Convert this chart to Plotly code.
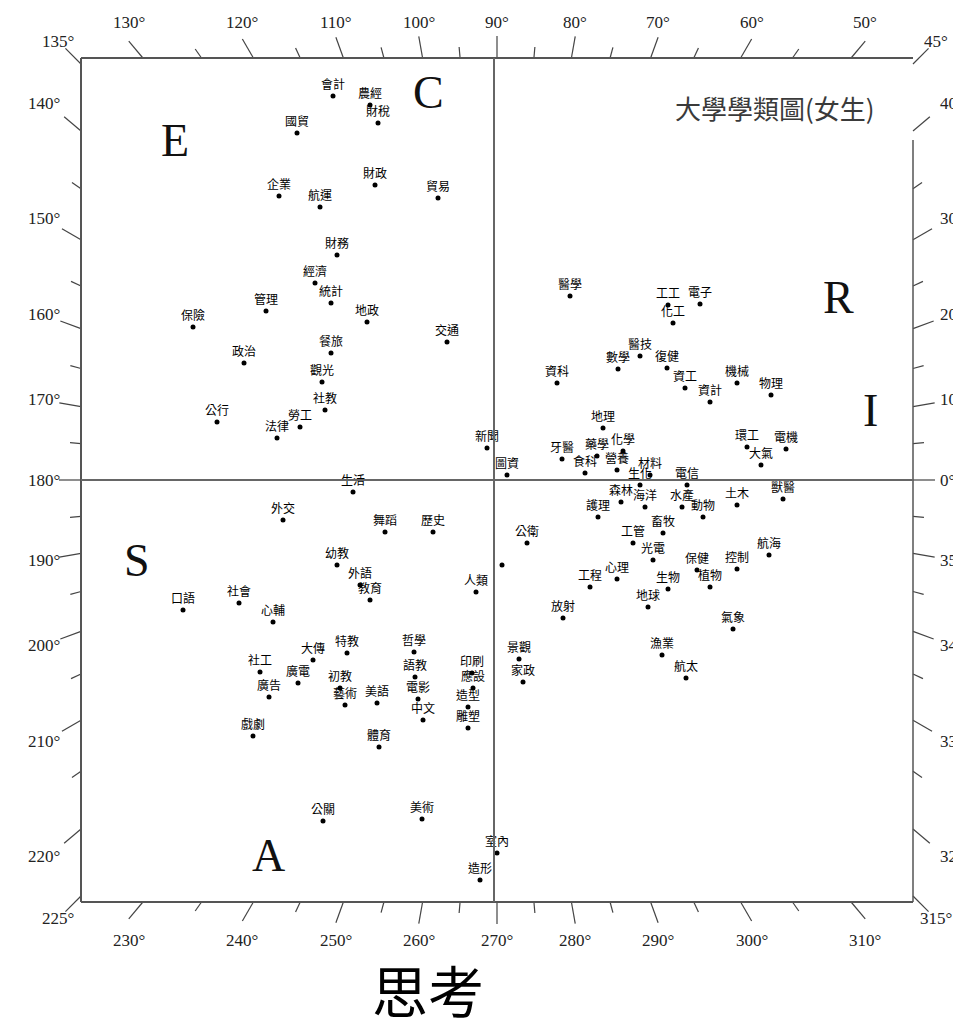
import math
import plotly.graph_objects as go

# ---------------- data (scale positions; 0,0 = centre of the map) ----------------
LABELS = [
    "會計", "農經", "財稅", "國貿", "企業", "航運", "財政", "貿易", "財務", "經濟",
    "統計", "管理", "地政", "交通", "保險", "政治", "餐旅", "觀光", "社教", "勞工",
    "法律", "公行", "生活", "外交",
    "舞蹈", "歷史", "幼教", "外語", "教育", "口語", "社會", "心輔", "大傳", "特教",
    "社工", "廣電", "廣告", "初教", "藝術", "美語", "哲學", "語教", "電影", "中文",
    "印刷", "應設", "造型", "雕塑", "人類", "", "景觀", "家政", "戲劇", "體育",
    "公關", "美術", "室內", "造形",
    "醫學", "工工", "電子", "化工", "數學", "醫技", "復健", "資工", "資計", "機械",
    "物理", "資科", "地理", "牙醫", "藥學", "化學", "食科", "營養", "材料", "生化",
    "電信", "森林", "海洋", "水產", "動物", "土木", "獸醫", "環工", "電機", "大氣",
    "畜牧", "工管", "護理", "公衛", "新聞", "圖資", "光電", "航海", "保健", "控制",
    "心理", "工程", "生物", "植物", "地球", "氣象", "漁業", "航太", "放射",
]
X = [
    -164, -127, -119, -200, -218, -177, -122, -59, -160, -182,
    -166, -231, -130, -50, -304, -253, -166, -175, -172, -197,
    -220, -280, -144, -214,
    -112, -64, -160, -137, -127, -314, -258, -224, -184, -150,
    -237, -199, -228, -157, -152, -120, -83, -82, -79, -74,
    -25, -24, -29, -29, -21, 5, 22, 26, -244, -118,
    -174, -75, 0, -17,
    73, 171, 203, 176, 121, 143, 170, 188, 213, 240,
    274, 60, 106, 65, 100, 126, 88, 120, 153, 143,
    190, 124, 148, 185, 206, 240, 286, 250, 289, 264,
    166, 136, 101, 30, -10, 10, 156, 272, 200, 240,
    120, 93, 171, 213, 151, 236, 165, 189, 66,
]
Y = [
    384, 375, 357, 347, 284, 273, 295, 282, 225, 197,
    177, 169, 158, 138, 153, 117, 127, 98, 70, 53,
    42, 58, -12, -40,
    -52, -52, -85, -105, -120, -130, -123, -142, -180, -173,
    -192, -203, -217, -208, -225, -223, -172, -197, -219, -240,
    -193, -208, -227, -248, -112, -85, -179, -202, -256, -267,
    -341, -339, -373, -400,
    184, 175, 176, 157, 111, 124, 112, 92, 78, 97,
    85, 97, 52, 21, 24, 29, 7, 10, 5, -5,
    -5, -22, -27, -27, -37, -25, -19, 33, 31, 15,
    -53, -63, -37, -63, 32, 5, -80, -75, -90, -89,
    -99, -107, -109, -107, -127, -149, -175, -198, -138,
]

# angle scale around the frame (degrees)
TOP_TICKS = [135, 130, 120, 110, 100, 90, 80, 70, 60, 50, 45]
LEFT_TICKS = [140, 150, 160, 170, 180, 190, 200, 210, 220]
BOTTOM_TICKS = [225, 230, 240, 250, 260, 270, 280, 290, 300, 310, 315]
RIGHT_TICKS = [40, 30, 20, 10, 0, 350, 340, 330, 320]
CORNERS = [45, 135, 225, 315]

# region letters
REGION_TEXT = ["E", "C", "R", "I", "S", "A"]
REGION_X = [-322, -69, 341, 373, -360, -229]
REGION_Y = [340, 388, 183, 70, -80, -375]

TITLE = "大學學類圖(女生)"
AXIS_TITLE = "思考"

# ---------------- layout constants ----------------
W, H = 953, 1018
HX, HY = 416, 422           # half size of the square frame
CX_PX, CY_PX = 497, 480     # frame centre in the page
XR = [-CX_PX, W - CX_PX]
YR = [CY_PX - H, CY_PX]
LINE_COL = "#555555"
SERIF = "Liberation Serif, Times New Roman, serif"
CJK = "Noto Sans CJK TC, Noto Sans CJK SC, sans-serif"
TOP_BAND, BOTTOM_BAND = 458, -460
LEFT_EDGE, RIGHT_EDGE = -435, 441


def border(theta):
    c, s = math.cos(math.radians(theta)), math.sin(math.radians(theta))
    t = min(HX / abs(c) if abs(c) > 1e-9 else 1e9, HY / abs(s) if abs(s) > 1e-9 else 1e9)
    return c * t, s * t, c, s


def side(theta):
    a = theta % 360
    if 45 < a < 135:
        return "top"
    if 135 < a < 225:
        return "left"
    if 225 < a < 315:
        return "bottom"
    return "right"


fig = go.Figure()

# frame and the two centre lines
shapes = []
def seg(x0, y0, x1, y1, w=2, col=LINE_COL):
    shapes.append(dict(type="line", xref="x", yref="y", x0=x0, y0=y0, x1=x1, y1=y1,
                       line=dict(color=col, width=w)))

seg(-HX, HY, HX, HY)
seg(-HX, -HY, -HX, HY)
seg(-HX, -HY, HX, -HY)
seg(HX, -HY, HX, HY - 82, w=1.5)
seg(-3, -HY, -3, HY, w=2, col="#666666")
seg(-HX, 0, HX, 0, w=2, col="#666666")

# ticks (radial, every 5 degrees)
majors = set(TOP_TICKS + LEFT_TICKS + BOTTOM_TICKS + RIGHT_TICKS)
tx, ty = [], []
for a in range(0, 360, 5):
    bx, by, c, s = border(a)
    L = 22 if a in majors else 11
    tx += [bx, bx + c * L, None]
    ty += [by, by + s * L, None]
fig.add_trace(go.Scatter(x=tx, y=ty, mode="lines", line=dict(color="#444444", width=1.2),
                         hoverinfo="skip", showlegend=False))

annotations = []
tick_font = dict(family=SERIF, size=17, color="#222222")
for a in TOP_TICKS + LEFT_TICKS + BOTTOM_TICKS + RIGHT_TICKS:
    bx, by, c, s = border(a)
    if a in CORNERS:
        x, y, xa = bx + c * 32, by + s * 32, "center"
    else:
        sd = side(a)
        if sd == "top":
            x, y, xa = bx + c * 22, TOP_BAND, "center"
        elif sd == "bottom":
            x, y, xa = bx + c * 22, BOTTOM_BAND, "center"
        elif sd == "left":
            x, y, xa = LEFT_EDGE, by + s * 42, "right"
        else:
            x, y, xa = RIGHT_EDGE, by + s * 42, "left"
    annotations.append(dict(x=x, y=y, xref="x", yref="y", text=f"{a}°", showarrow=False,
                            xanchor=xa, yanchor="middle", font=tick_font))

# region letters
for t, x, y in zip(REGION_TEXT, REGION_X, REGION_Y):
    annotations.append(dict(x=x, y=y, xref="x", yref="y", text=t, showarrow=False,
                            xanchor="center", yanchor="middle",
                            font=dict(family=SERIF, size=46, color="#111111")))

annotations.append(dict(x=278, y=373, xref="x", yref="y", text=TITLE, showarrow=False,
                        xanchor="center", yanchor="middle",
                        font=dict(family=CJK, size=26, color="#3a3a3a")))
annotations.append(dict(x=-69, y=-508, xref="x", yref="y", text=AXIS_TITLE, showarrow=False,
                        xanchor="center", yanchor="middle",
                        font=dict(family=CJK, size=56, color="#000000")))

# the majors
fig.add_trace(go.Scatter(
    x=X, y=Y, mode="markers+text", text=LABELS, textposition="top center",
    marker=dict(size=5, color="#000000"),
    textfont=dict(family=CJK, size=12, color="#000000"),
    cliponaxis=False, hoverinfo="text", showlegend=False))

fig.update_layout(
    width=W, height=H, margin=dict(l=0, r=0, t=0, b=0),
    paper_bgcolor="white", plot_bgcolor="white",
    xaxis=dict(range=XR, visible=False, fixedrange=True),
    yaxis=dict(range=YR, visible=False, fixedrange=True),
    shapes=shapes, annotations=annotations, showlegend=False,
)

fig.write_html("out.html", config={"displayModeBar": False},
               post_script="document.body.style.margin='0px';document.body.style.padding='0px';"
                           "document.body.style.overflow='hidden';")
